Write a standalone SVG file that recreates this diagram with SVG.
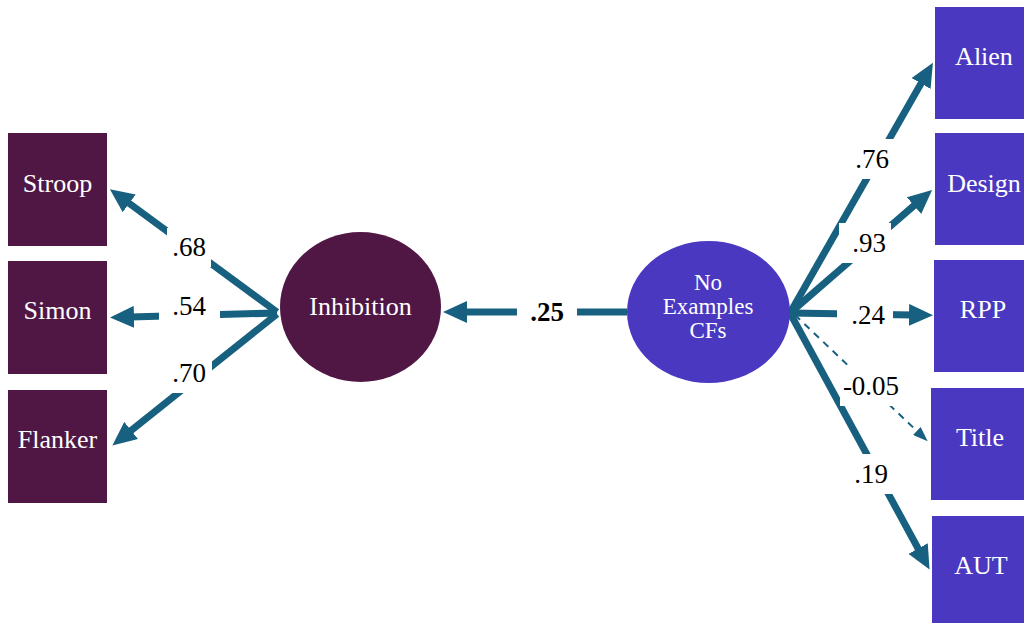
<svg xmlns="http://www.w3.org/2000/svg" width="1024" height="623" viewBox="0 0 1024 623">
  <defs>
    <style>
      .ind-l { fill: #501745; }
      .ind-r { fill: #4A38C1; }
      .node-text { font-family: "Liberation Serif", "Times New Roman", serif; fill: #ffffff; text-anchor: middle; }
      .edge { stroke: #17607F; stroke-width: 7; fill: none; }
      .edge-dash { stroke: #17607F; stroke-width: 2; fill: none; stroke-dasharray: 7 6; }
      .lbl-bg { fill: #ffffff; }
      .lbl { font-family: "Liberation Serif", "Times New Roman", serif; font-size: 27px; fill: #000000; text-anchor: middle; }
    </style>
    <marker id="head" markerUnits="userSpaceOnUse" markerWidth="24" markerHeight="22" refX="4" refY="11" orient="auto">
      <path d="M0,0 L24,11 L0,22 Z" fill="#17607F"/>
    </marker>
    <marker id="head-thin" markerUnits="userSpaceOnUse" markerWidth="15" markerHeight="11" refX="3" refY="5.5" orient="auto">
      <path d="M0,0 L15,5.5 L0,11 Z" fill="#17607F"/>
    </marker>
  </defs>

  <rect width="1024" height="623" fill="#ffffff"/>

  <!-- connectors -->
  <g id="connectors">
    <line class="edge" x1="277" y1="312" x2="126" y2="201" marker-end="url(#head)"/>
    <line class="edge" x1="277" y1="313" x2="130" y2="317" marker-end="url(#head)"/>
    <line class="edge" x1="277" y1="314" x2="128" y2="433" marker-end="url(#head)"/>
    <line class="edge" x1="627" y1="312" x2="463" y2="312" marker-end="url(#head)"/>
    <line class="edge" x1="790" y1="313" x2="923" y2="80" marker-end="url(#head)"/>
    <line class="edge" x1="790" y1="313" x2="917" y2="203" marker-end="url(#head)"/>
    <line class="edge" x1="790" y1="313" x2="913" y2="315" marker-end="url(#head)"/>
    <line class="edge-dash" x1="795" y1="315" x2="919" y2="433" marker-end="url(#head-thin)"/>
    <line class="edge" x1="790" y1="313" x2="920" y2="552" marker-end="url(#head)"/>

    <!-- coefficient labels -->
    <rect class="lbl-bg" x="167" y="228" width="44" height="39"/>
    <text class="lbl" x="189" y="256">.68</text>
    <rect class="lbl-bg" x="159" y="287" width="61" height="39"/>
    <text class="lbl" x="189" y="315">.54</text>
    <rect class="lbl-bg" x="166" y="354" width="46" height="39"/>
    <text class="lbl" x="189" y="382">.70</text>
    <rect class="lbl-bg" x="517" y="292" width="60" height="40"/>
    <text class="lbl" x="547" y="321" font-weight="bold">.25</text>
    <rect class="lbl-bg" x="848" y="139" width="48" height="40"/>
    <text class="lbl" x="872" y="168">.76</text>
    <rect class="lbl-bg" x="839" y="223" width="52" height="40"/>
    <text class="lbl" x="869" y="252">.93</text>
    <rect class="lbl-bg" x="837" y="295" width="56" height="40"/>
    <text class="lbl" x="868" y="324">.24</text>
    <rect class="lbl-bg" x="840" y="366" width="63" height="40"/>
    <text class="lbl" x="871" y="395">-0.05</text>
    <rect class="lbl-bg" x="846" y="454" width="50" height="40"/>
    <text class="lbl" x="871" y="483">.19</text>
  </g>

  <!-- inhibition indicators -->
  <g id="stroop">
    <rect class="ind-l" x="8" y="133" width="99" height="113"/>
    <text class="node-text" x="57.5" y="192" font-size="26">Stroop</text>
  </g>
  <g id="simon">
    <rect class="ind-l" x="8" y="261" width="99" height="113"/>
    <text class="node-text" x="57.5" y="319" font-size="26">Simon</text>
  </g>
  <g id="flanker">
    <rect class="ind-l" x="8" y="390" width="99" height="113"/>
    <text class="node-text" x="57.5" y="448" font-size="26">Flanker</text>
  </g>

  <!-- latent factors -->
  <g id="inhibition">
    <ellipse class="ind-l" cx="360.5" cy="307" rx="80.5" ry="75"/>
    <text class="node-text" x="360.5" y="315" font-size="26">Inhibition</text>
  </g>
  <g id="no-examples-cfs">
    <ellipse class="ind-r" cx="708.5" cy="312" rx="81.5" ry="71"/>
    <text class="node-text" x="708" y="290" font-size="23">No</text>
    <text class="node-text" x="708" y="314" font-size="23">Examples</text>
    <text class="node-text" x="708" y="338" font-size="23">CFs</text>
  </g>

  <!-- creativity indicators -->
  <g id="alien">
    <rect class="ind-r" x="935" y="7" width="100" height="112"/>
    <text class="node-text" x="984" y="65" font-size="26">Alien</text>
  </g>
  <g id="design">
    <rect class="ind-r" x="935" y="133" width="100" height="112"/>
    <text class="node-text" x="984" y="192" font-size="26">Design</text>
  </g>
  <g id="rpp">
    <rect class="ind-r" x="934" y="260" width="100" height="112"/>
    <text class="node-text" x="983" y="318" font-size="26">RPP</text>
  </g>
  <g id="title">
    <rect class="ind-r" x="931" y="388" width="100" height="112"/>
    <text class="node-text" x="980" y="446" font-size="26">Title</text>
  </g>
  <g id="aut">
    <rect class="ind-r" x="932" y="516" width="100" height="112"/>
    <text class="node-text" x="981" y="574" font-size="26">AUT</text>
  </g>
</svg>
